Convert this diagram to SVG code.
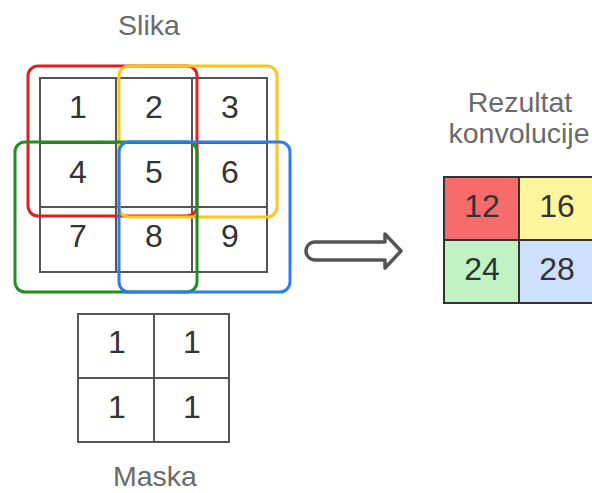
<svg xmlns="http://www.w3.org/2000/svg" width="592" height="493" viewBox="0 0 592 493">
<style>
.lbl{font-family:"Liberation Sans",Arial,sans-serif;font-size:28.5px;fill:#6a6a6a;text-anchor:middle}
.num{font-family:"Liberation Sans",Arial,sans-serif;font-size:32px;fill:#333;text-anchor:middle}
.grid{fill:none;stroke:#555;stroke-width:2}
.win{fill:none;stroke-width:3}
</style>
<rect width="592" height="493" fill="#fff"/>
<g id="slika">
<text class="lbl" x="149" y="35">Slika</text>
<rect class="grid" x="40" y="78" width="227" height="194"/>
<path class="grid" d="M116 78V272M192 78V272M40 143H267M40 207H267"/>
<text class="num" x="78" y="118">1</text>
<text class="num" x="154" y="118">2</text>
<text class="num" x="230" y="118">3</text>
<text class="num" x="78" y="183">4</text>
<text class="num" x="154" y="183">5</text>
<text class="num" x="230" y="183">6</text>
<text class="num" x="78" y="247">7</text>
<text class="num" x="154" y="247">8</text>
<text class="num" x="230" y="247">9</text>
</g>
<g id="windows">
<rect class="win" x="28" y="66" width="169" height="150" rx="10" stroke="#e0201e"/>
<rect class="win" x="119" y="66" width="158" height="151" rx="10" stroke="#ffc61a"/>
<rect class="win" x="15" y="142" width="182" height="150" rx="10" stroke="#1f8f1f"/>
<rect class="win" x="119" y="142" width="171" height="150" rx="10" stroke="#2b7de9"/>
</g>
<g id="maska">
<rect class="grid" x="78" y="314" width="151" height="128"/>
<path class="grid" d="M154 314V442M78 378H229"/>
<text class="num" x="117" y="353">1</text>
<text class="num" x="192" y="353">1</text>
<text class="num" x="117" y="418">1</text>
<text class="num" x="192" y="418">1</text>
<text class="lbl" x="155" y="486">Maska</text>
</g>
<g id="connectors">
<path d="M315 242H385V234L401 251L385 268V260H315A9 9 0 0 1 315 242Z" fill="#fff" stroke="#555" stroke-width="3.5" stroke-linejoin="round"/>
</g>
<g id="rezultat">
<text class="lbl" x="520" y="112">Rezultat</text>
<text class="lbl" x="519" y="143">konvolucije</text>
<rect x="444" y="177" width="75" height="63" fill="#f86b6b"/>
<rect x="519" y="177" width="75" height="63" fill="#fff59c"/>
<rect x="444" y="240" width="75" height="63" fill="#c0f2c4"/>
<rect x="519" y="240" width="75" height="63" fill="#cde1ff"/>
<rect x="444" y="177" width="150" height="126" fill="none" stroke="#333" stroke-width="2"/>
<path d="M519 177V303M444 240H594" fill="none" stroke="#333" stroke-width="2"/>
<text class="num" x="482" y="217">12</text>
<text class="num" x="557" y="217">16</text>
<text class="num" x="482" y="280">24</text>
<text class="num" x="557" y="280">28</text>
</g>
</svg>
